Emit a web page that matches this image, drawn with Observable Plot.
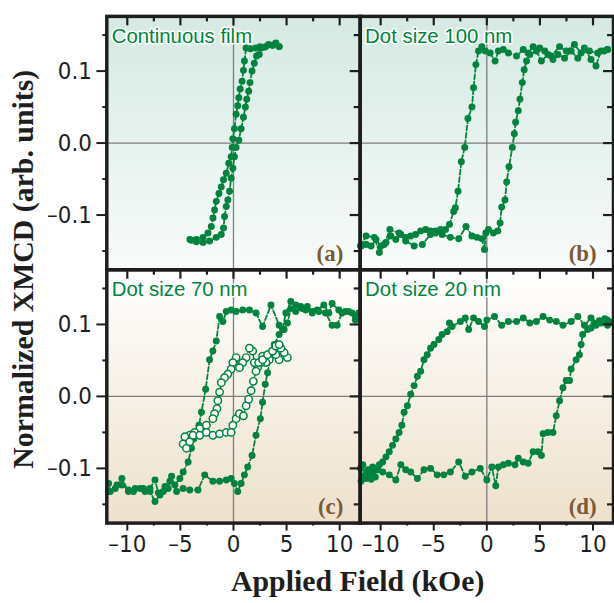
<!DOCTYPE html>
<html>
<head>
<meta charset="utf-8">
<script src="https://cdn.jsdelivr.net/npm/d3@7"></script>
<script src="https://cdn.jsdelivr.net/npm/@observablehq/plot@0.6"></script>
<style>
  html, body { margin: 0; padding: 0; background: #fff; overflow: hidden; width: 614px; height: 603px; }
  #chart { position: relative; width: 614px; height: 603px; overflow: hidden; }
</style>
</head>
<body>
<div id="chart"></div>
<script>
// ---------- data (x: kOe, y: normalized XMCD) ----------
const cols = ["L", "R"];
const rows = ["T", "B"];
const panelNames = ["Continuous film", "Dot size 100 nm", "Dot size 70 nm", "Dot size 20 nm"];
const panelLetters = ["(a)", "(b)", "(c)", "(d)"];
const panelCols = ["L", "R", "L", "R"];
const panelRows = ["T", "T", "B", "B"];

const xTicks = [-10, -5, 0, 5, 10];
const xTickLabels = ["\u201310", "\u20135", "0", "5", "10"];
const xMinor = [-7.5, -2.5, 2.5, 7.5];
const yTicks = [-0.1, 0, 0.1];
const yTickLabels = ["\u20130.1", "0.0", "0.1"];
const yMinor = [-0.15, -0.05, 0.05, 0.15];

// (a) continuous film
const aDown = [[4.3,0.134],[3.99,0.139],[3.68,0.136],[3.3,0.137],[2.9,0.133],[2.5,0.134],[2.1,0.132],[1.6,0.131],[1.19,0.132],[1.03,0.114],[0.94,0.101],[0.81,0.086],[0.63,0.075],[0.5,0.063],[0.4,0.052],[0.25,0.04],[0.09,0.02],[-0.06,0.006],[-0.12,-0.006],[-0.22,-0.019],[-0.44,-0.028],[-0.68,-0.042],[-0.94,-0.051],[-1.15,-0.061],[-1.37,-0.07],[-1.62,-0.081],[-1.78,-0.093],[-1.93,-0.104],[-2.09,-0.116],[-2.4,-0.125],[-2.87,-0.131],[-3.49,-0.134],[-3.96,-0.135]];
const aUp = [[-4.1,-0.134],[-3.49,-0.137],[-2.87,-0.138],[-2.25,-0.136],[-1.62,-0.131],[-1.15,-0.127],[-0.94,-0.118],[-0.84,-0.102],[-0.68,-0.088],[-0.53,-0.079],[-0.37,-0.067],[-0.22,-0.049],[-0.06,-0.035],[0.09,-0.019],[0.25,-0.006],[0.5,0.004],[0.72,0.02],[0.94,0.036],[1.12,0.05],[1.25,0.061],[1.43,0.072],[1.56,0.084],[1.75,0.1],[1.96,0.111],[2.18,0.121],[2.43,0.123],[2.59,0.132],[3.06,0.134],[3.68,0.136],[4.3,0.134]];

// (b) dot size 100 nm
const bDown = [[11.37,0.13],[11.06,0.128],[10.44,0.125],[9.66,0.128],[8.88,0.125],[8.25,0.137],[7.48,0.128],[6.85,0.134],[6.07,0.121],[5.45,0.128],[4.98,0.132],[4.36,0.134],[3.89,0.125],[3.43,0.13],[2.8,0.121],[2.03,0.125],[1.56,0.13],[1.09,0.128],[0.78,0.114],[0.31,0.125],[-0.16,0.128],[-0.47,0.134],[-0.78,0.128],[-1.03,0.109],[-1.25,0.077],[-1.4,0.05],[-1.78,0.034],[-2.08,-0.006],[-2.4,-0.026],[-2.71,-0.067],[-2.96,-0.09],[-3.12,-0.095],[-3.52,-0.113],[-3.89,-0.12],[-4.36,-0.12],[-4.83,-0.125],[-5.3,-0.122],[-5.76,-0.12],[-6.23,-0.122],[-6.7,-0.127],[-7.17,-0.129],[-7.64,-0.131],[-8.1,-0.127],[-8.57,-0.134],[-9.04,-0.129],[-9.5,-0.138],[-9.97,-0.143],[-10.44,-0.134],[-10.9,-0.143],[-11.37,-0.141],[-11.84,-0.143]];
const bUp = [[-11.9,-0.143],[-11.37,-0.129],[-10.6,-0.131],[-10.12,-0.152],[-9.66,-0.141],[-9.13,-0.12],[-8.26,-0.125],[-7.64,-0.136],[-6.85,-0.143],[-6.07,-0.141],[-5.3,-0.127],[-4.83,-0.122],[-4.21,-0.127],[-3.43,-0.131],[-2.65,-0.133],[-1.96,-0.116],[-1.4,-0.129],[-0.93,-0.131],[-0.47,-0.133],[-0.22,-0.148],[-0.09,-0.125],[0.16,-0.12],[0.62,-0.125],[1.03,-0.122],[1.25,-0.111],[1.4,-0.089],[1.71,-0.079],[1.87,-0.054],[2.09,-0.033],[2.4,-0.006],[2.59,0.013],[2.71,0.029],[2.96,0.045],[3.12,0.061],[3.34,0.084],[3.52,0.102],[3.74,0.114],[4.05,0.123],[4.67,0.128],[5.14,0.114],[5.76,0.123],[6.23,0.116],[6.7,0.123],[7.32,0.118],[7.94,0.128],[8.57,0.118],[9.19,0.132],[9.81,0.116],[10.28,0.107],[10.75,0.128],[11.37,0.13]];

// (c) dot size 70 nm, filled
const cDown = [[11.48,0.106],[11.16,0.116],[10.54,0.118],[9.92,0.12],[9.29,0.129],[8.98,0.116],[8.51,0.127],[7.89,0.12],[7.42,0.116],[6.8,0.12],[6.33,0.125],[5.87,0.127],[5.4,0.132],[4.93,0.116],[4.62,0.093],[4.3,0.099],[3.53,0.127],[2.74,0.097],[2.12,0.116],[1.5,0.12],[0.87,0.12],[0.25,0.118],[-0.22,0.12],[-0.68,0.118],[-1.0,0.104],[-1.31,0.111],[-1.62,0.077],[-1.94,0.063],[-2.25,0.051],[-2.62,0.01],[-3.02,-0.022],[-3.25,-0.04],[-3.74,-0.059],[-3.96,-0.072],[-4.27,-0.091],[-4.74,-0.105],[-5.05,-0.114],[-5.52,-0.123],[-5.99,-0.118],[-6.45,-0.125],[-6.92,-0.137],[-7.39,-0.146],[-7.86,-0.132],[-8.33,-0.132],[-8.79,-0.128],[-9.42,-0.132],[-9.89,-0.132],[-10.51,-0.114],[-10.97,-0.123],[-11.6,-0.132],[-11.76,-0.121]];
const cUp = [[-11.76,-0.132],[-11.13,-0.128],[-10.51,-0.123],[-9.89,-0.13],[-9.26,-0.128],[-8.48,-0.128],[-7.86,-0.128],[-7.39,-0.116],[-7.08,-0.134],[-6.61,-0.132],[-6.15,-0.128],[-5.83,-0.111],[-5.36,-0.132],[-4.74,-0.128],[-4.12,-0.13],[-3.34,-0.13],[-2.71,-0.109],[-1.94,-0.118],[-1.31,-0.118],[-0.68,-0.116],[-0.22,-0.114],[0.09,-0.121],[0.4,-0.132],[0.72,-0.121],[1.03,-0.109],[1.34,-0.098],[1.75,-0.082],[2.12,-0.054],[2.53,-0.031],[2.74,-0.008],[2.99,0.017],[3.21,0.033],[3.53,0.056],[3.84,0.072],[4.3,0.086],[4.77,0.093],[5.08,0.102],[5.4,0.122],[5.87,0.118],[6.48,0.122],[6.95,0.125],[7.42,0.118],[8.04,0.118],[8.67,0.116],[9.29,0.099],[9.76,0.099],[10.23,0.116],[10.85,0.118],[11.48,0.111],[11.79,0.116]];
// (c) dot size 70 nm, open circles
const cOpen = [[5.08,0.054],[4.77,0.061],[4.46,0.067],[4.3,0.051],[3.99,0.058],[3.68,0.063],[3.37,0.051],[3.06,0.047],[2.74,0.056],[2.59,0.047],[2.27,0.04],[1.96,0.047],[1.81,0.063],[1.5,0.067],[1.19,0.054],[0.87,0.047],[0.56,0.04],[0.25,0.054],[-0.06,0.047],[-0.22,0.038],[-0.53,0.031],[-0.84,0.026],[-1.15,0.019],[-1.31,0.006],[-1.47,-0.006],[-1.56,-0.017],[-1.78,-0.024],[-1.94,-0.031],[-2.55,-0.04],[-3.18,-0.045],[-3.65,-0.05],[-4.12,-0.054],[-4.58,-0.056],[-4.74,-0.066],[-4.43,-0.072],[-4.12,-0.063],[-3.81,-0.054],[-3.18,-0.054],[-2.55,-0.05],[-1.94,-0.054],[-1.31,-0.052],[-0.68,-0.05],[-0.22,-0.05],[-0.06,-0.04],[0.25,-0.031],[0.56,-0.024],[0.94,-0.027],[1.19,-0.013],[1.43,-0.004],[1.66,0.008],[1.87,0.021],[2.12,0.035],[2.37,0.047],[2.74,0.051],[3.21,0.058],[3.68,0.063],[3.99,0.07],[4.3,0.072]];

// (d) dot size 20 nm
const dDown = [[11.37,0.099],[10.9,0.104],[10.44,0.102],[9.81,0.109],[9.19,0.099],[8.57,0.111],[7.94,0.104],[7.17,0.099],[6.54,0.104],[5.92,0.106],[5.3,0.111],[4.67,0.104],[4.05,0.102],[3.43,0.109],[2.8,0.104],[2.03,0.104],[1.4,0.099],[0.72,0.111],[0.0,0.106],[-0.22,0.097],[-0.78,0.104],[-1.25,0.109],[-1.71,0.093],[-2.03,0.109],[-2.49,0.104],[-3.27,0.097],[-3.52,0.102],[-3.74,0.09],[-4.21,0.086],[-4.52,0.079],[-4.98,0.072],[-5.3,0.067],[-5.61,0.058],[-5.92,0.051],[-6.23,0.035],[-6.54,0.028],[-6.85,0.015],[-7.17,0.003],[-7.48,-0.013],[-7.79,-0.022],[-8.0,-0.04],[-8.26,-0.05],[-8.57,-0.059],[-8.88,-0.068],[-9.19,-0.077],[-9.5,-0.084],[-9.81,-0.091],[-10.12,-0.095],[-10.44,-0.1],[-10.75,-0.105],[-11.06,-0.109],[-11.37,-0.114],[-11.84,-0.118]];
const dUp = [[-11.9,-0.1],[-11.68,-0.095],[-11.5,-0.11],[-11.21,-0.102],[-10.9,-0.115],[-10.75,-0.098],[-10.5,-0.112],[-10.28,-0.102],[-9.81,-0.105],[-9.19,-0.109],[-8.57,-0.116],[-8.1,-0.095],[-7.64,-0.102],[-7.17,-0.105],[-6.54,-0.114],[-5.92,-0.102],[-5.3,-0.1],[-4.67,-0.109],[-4.05,-0.109],[-3.43,-0.105],[-2.65,-0.091],[-2.03,-0.111],[-1.4,-0.105],[-0.62,-0.1],[0.0,-0.116],[0.47,-0.098],[0.84,-0.124],[1.09,-0.098],[1.56,-0.095],[2.03,-0.093],[2.65,-0.095],[2.96,-0.086],[3.43,-0.091],[3.89,-0.093],[4.36,-0.077],[4.83,-0.077],[5.14,-0.082],[5.3,-0.052],[5.76,-0.05],[6.23,-0.05],[6.54,-0.027],[6.85,-0.006],[7.17,0.012],[7.48,0.022],[7.79,0.022],[7.94,0.038],[8.41,0.051],[8.72,0.058],[8.88,0.072],[9.03,0.086],[9.5,0.093],[9.81,0.095],[10.1,0.101],[10.28,0.099],[10.6,0.105],[10.75,0.102],[11.1,0.108],[11.37,0.106],[11.6,0.103]];

// ---------- build tables ----------
const panels = panelNames.map((name, i) => ({name, letter: panelLetters[i], col: panelCols[i], row: panelRows[i]}));
function seriesRows(arr, col, row, id, open) {
  return arr.map(([x, y]) => ({x, y, col, row, id, open}));
}
const filled = [
  ...seriesRows(aDown, "L", "T", "aDown"), ...seriesRows(aUp, "L", "T", "aUp"),
  ...seriesRows(bDown, "R", "T", "bDown"), ...seriesRows(bUp, "R", "T", "bUp"),
  ...seriesRows(cDown, "L", "B", "cDown"), ...seriesRows(cUp, "L", "B", "cUp"),
  ...seriesRows(dDown, "R", "B", "dDown"), ...seriesRows(dUp, "R", "B", "dUp")
];
const openPts = seriesRows(cOpen, "L", "B", "cOpen", true);

const GREEN = "#00843d";
const NARROW = "'Liberation Sans Narrow', 'DejaVu Sans Condensed', 'Arial Narrow', sans-serif";
const SANS = "'Liberation Sans', Arial, sans-serif";
const SERIF = "'Liberation Serif', 'Times New Roman', serif";
const INK = "#1e1e1e";

// layout
const W = 618, H = 603, ML = 107, MR = 1, MT = 15, MB = 77;
const panelW = (W - ML - MR) / 2;
const panelH = (H - MT - MB) / 2;

const fmtX = d => xTickLabels[xTicks.indexOf(d)];
const fmtY = d => yTickLabels[yTicks.findIndex(t => Math.abs(t - d) < 1e-9)];
const blank = () => "";

// inward tick helpers (top edge and right edge of every panel)
const topTicks = (vals, len) => Plot.tickX(vals, {x: d => d, insetBottom: panelH - len, stroke: INK, strokeWidth: 2.2});
const rightTicks = (vals, len) => Plot.tickY(vals, {y: d => d, insetLeft: panelW - len, stroke: INK, strokeWidth: 2.2});

const svg = Plot.plot({
  width: W,
  height: H,
  marginLeft: ML,
  marginRight: MR,
  marginTop: MT,
  marginBottom: MB,
  x: {domain: [-11.93, 11.93]},
  y: {domain: [-0.176, 0.176]},
  fx: {domain: cols, axis: null, padding: 0},
  fy: {domain: rows, axis: null, padding: 0},
  style: {background: "transparent", color: INK},
  marks: [
    Plot.rect(panels.filter(p => p.row === "T"), {fx: "col", fy: "row", fill: "url(#gTop)"}),
    Plot.rect(panels.filter(p => p.row === "B"), {fx: "col", fy: "row", fill: "url(#gBot)"}),
    Plot.ruleX([0], {stroke: "#7d7d7d", strokeWidth: 1.3}),
    Plot.ruleY([0], {stroke: "#7d7d7d", strokeWidth: 1.3}),
    Plot.line(filled, {x: "x", y: "y", z: "id", fx: "col", fy: "row", stroke: GREEN, strokeWidth: 1.8, strokeDasharray: "5,2.5"}),
    Plot.line(openPts, {x: "x", y: "y", z: "id", fx: "col", fy: "row", stroke: GREEN, strokeWidth: 1.4, strokeDasharray: "4,2.5"}),
    Plot.dot(filled, {x: "x", y: "y", fx: "col", fy: "row", r: 3.5, fill: GREEN, stroke: "none"}),
    Plot.dot(openPts, {x: "x", y: "y", fx: "col", fy: "row", r: 3.7, fill: "white", stroke: GREEN, strokeWidth: 1.5}),
    topTicks(xTicks, 10),
    topTicks(xMinor, 6),
    rightTicks(yTicks, 10),
    rightTicks(yMinor, 6),
    Plot.frame({stroke: INK, strokeWidth: 3.5}),
    // bottom axis (bottom row)
    Plot.axisX({anchor: "bottom", ticks: xTicks, tickFormat: fmtX, tickSize: 8, tickPadding: 4, label: null, fontSize: 24, fontFamily: NARROW, color: INK, strokeWidth: 2}),
    Plot.axisX({anchor: "bottom", ticks: xMinor, tickFormat: blank, tickSize: 3, label: null, color: INK, strokeWidth: 2}),
    // left axis (left column)
    Plot.axisY({anchor: "left", ticks: yTicks, tickFormat: fmtY, tickSize: 10, tickPadding: 5, label: null, fontSize: 24, fontFamily: NARROW, color: INK, strokeWidth: 2}),
    Plot.axisY({anchor: "left", ticks: yMinor, tickFormat: blank, tickSize: 4, label: null, color: INK, strokeWidth: 2}),
    // panel texts
    Plot.text(panels, {fx: "col", fy: "row", text: "name", frameAnchor: "top-left", textAnchor: "start", lineAnchor: "top", dx: 5, dy: 12, fontSize: 20.5, fontFamily: SANS, fill: GREEN, stroke: "white", strokeWidth: 3}),
    Plot.text(panels, {fx: "col", fy: "row", text: "letter", frameAnchor: "bottom-right", textAnchor: "end", lineAnchor: "bottom", dx: -17, dy: -9, fontSize: 23, fontWeight: "bold", fontFamily: SERIF, fill: "#7a5a37"})
  ]
});

const root = d3.select(svg);
const defs = root.insert("defs", ":first-child");
const gt = defs.append("linearGradient").attr("id", "gTop").attr("x1", 0).attr("y1", 0).attr("x2", 0).attr("y2", 1);
gt.append("stop").attr("offset", "0%").attr("stop-color", "#d5e9e2");
gt.append("stop").attr("offset", "100%").attr("stop-color", "#f8fbfa");
const gb = defs.append("linearGradient").attr("id", "gBot").attr("x1", 0).attr("y1", 0).attr("x2", 0).attr("y2", 1);
gb.append("stop").attr("offset", "0%").attr("stop-color", "#ffffff");
gb.append("stop").attr("offset", "100%").attr("stop-color", "#eee1cc");

// axis titles
root.append("text")
  .attr("transform", "translate(33,271) rotate(-90)")
  .attr("text-anchor", "middle")
  .attr("font-family", SERIF).attr("font-weight", "bold").attr("font-size", 30).attr("fill", INK)
  .text("Normalized XMCD (arb. units)");
root.append("text")
  .attr("x", 360).attr("y", 595)
  .attr("text-anchor", "middle")
  .attr("font-family", SERIF).attr("font-weight", "bold").attr("font-size", 30).attr("fill", INK)
  .text("Applied Field (kOe)");

document.getElementById("chart").appendChild(svg);
</script>
</body>
</html>
